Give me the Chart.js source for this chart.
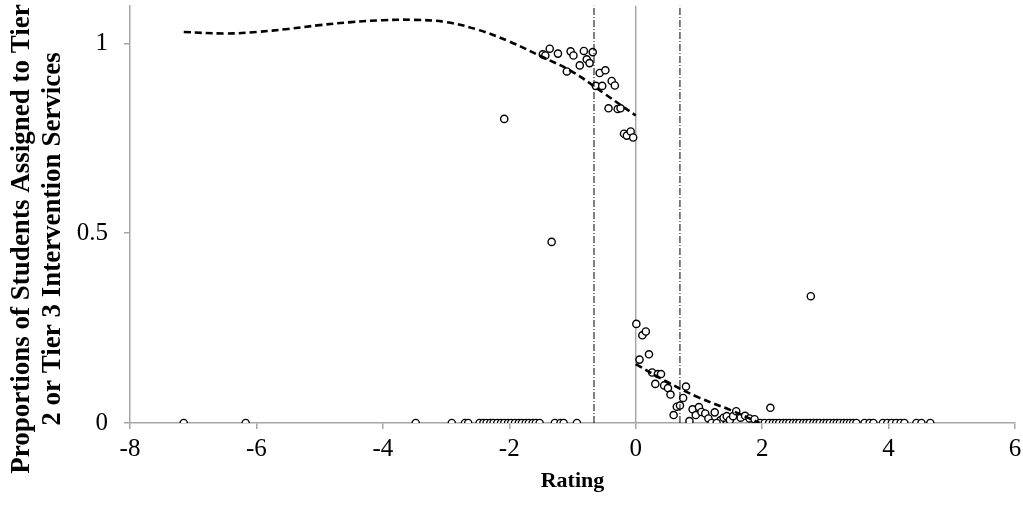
<!DOCTYPE html>
<html>
<head>
<meta charset="utf-8">
<script src="https://cdn.jsdelivr.net/npm/chart.js@4/dist/chart.umd.min.js"></script>
<style>
  html, body { margin: 0; padding: 0; background: #fff; }
  #wrap { width: 1023px; height: 510px; }
</style>
</head>
<body>
<div id="wrap"><canvas id="grafico" width="1023" height="510"></canvas></div>
<script>
// observed proportions (rating, proportion)
const ratingsUpper = [-2.08, -1.47, -1.43, -1.36, -1.33, -1.23, -1.09, -1.03, -0.985, -0.885, -0.82, -0.775, -0.73, -0.68,
    -0.63, -0.57, -0.53, -0.48, -0.43, -0.38, -0.33, -0.285, -0.24, -0.185, -0.14, -0.08, -0.04];
const propsUpper = [0.801, 0.971, 0.968, 0.986, 0.477, 0.973, 0.926, 0.979, 0.968, 0.942, 0.980, 0.958, 0.948, 0.977,
    0.888, 0.922, 0.888, 0.929, 0.829, 0.901, 0.889, 0.827, 0.829, 0.762, 0.757, 0.768, 0.752];

const ratingsLower = [0.01, 0.06, 0.105, 0.16, 0.21, 0.26, 0.31, 0.35, 0.40, 0.45, 0.51, 0.55, 0.60, 0.65, 0.70, 0.75,
    0.795, 0.85, 0.90, 0.95, 1.00, 1.04, 1.10, 1.15, 1.25, 1.34, 1.39, 1.44, 1.49, 1.54, 1.59, 1.66, 1.73, 1.80, 1.88, 2.13, 2.77];
const propsLower = [0.261, 0.167, 0.231, 0.241, 0.181, 0.133, 0.103, 0.129, 0.129, 0.099, 0.092, 0.075, 0.021, 0.043, 0.046, 0.066,
    0.096, 0.005, 0.036, 0.021, 0.042, 0.029, 0.025, 0.012, 0.028, 0.007, 0.014, 0.018, 0.008, 0.018, 0.031, 0.014, 0.019, 0.012, 0.010, 0.040, 0.334];

// ratings where the proportion is 0
const ratingsZero = [-7.15, -6.17, -3.48, -2.91, -2.70, -2.65,
    -2.47, -2.41, -2.36, -2.30, -2.25, -2.19, -2.13, -2.08, -2.02, -1.97, -1.91, -1.85, -1.80, -1.74, -1.69, -1.63, -1.58, -1.52,
    -1.28, -1.19, -1.14, -0.93,
    1.20, 1.28, 1.97, 2.04, 2.11,
    2.17, 2.22, 2.27, 2.33, 2.38, 2.43, 2.49, 2.54, 2.59, 2.65, 2.70, 2.75, 2.81, 2.86, 2.91, 2.97, 3.02, 3.07, 3.13, 3.18,
    3.23, 3.29, 3.34, 3.39, 3.44, 3.49,
    3.62, 3.70, 3.76, 3.91, 3.98, 4.05, 4.12, 4.19, 4.25, 4.44, 4.52, 4.66];

// fitted curves
const fitLeftX = [-7.15, -6.5, -6, -5.5, -5, -4.5, -4, -3.5, -3, -2.5, -2, -1.5, -1, -0.5, 0];
const fitLeftY = [1.030, 1.026, 1.030, 1.038, 1.048, 1.056, 1.061, 1.062, 1.056, 1.036, 1.005, 0.966, 0.925, 0.868, 0.810];
const fitRightX = [0, 0.5, 1, 1.5, 1.96];
const fitRightY = [0.155, 0.108, 0.067, 0.034, 0.0];

const cutoffs = [-0.66, 0.70];
const xTicks = [-8, -6, -4, -2, 0, 2, 4, 6];
const yTicks = [0, 0.5, 1];
const yMax = 1.1;

const tituloY = ["Proportions of Students Assigned to Tier", "2 or Tier 3 Intervention Services"];
const tituloX = "Rating";

const serif = "'Liberation Serif', 'Times New Roman', serif";
const gris = "#a6a6a6";

function pares(xs, ys) {
    return xs.map((x, i) => ({ x: x, y: ys[i] }));
}

const puntos = pares(ratingsUpper, propsUpper)
    .concat(pares(ratingsLower, propsLower))
    .concat(ratingsZero.map(x => ({ x: x, y: 0 })));

const datasets = [];

datasets.push({
    type: "scatter",
    data: puntos,
    pointRadius: 3.6,
    pointBorderWidth: 1.4,
    pointBackgroundColor: "#fff",
    pointBorderColor: "#000",
    order: 3
});

[[fitLeftX, fitLeftY], [fitRightX, fitRightY]].forEach(function (c) {
    datasets.push({
        type: "line",
        data: pares(c[0], c[1]),
        borderColor: "#000",
        borderWidth: 2.6,
        borderDash: [7, 4],
        pointRadius: 0,
        tension: 0.4,
        fill: false,
        order: 1
    });
});

cutoffs.forEach(function (c) {
    datasets.push({
        type: "line",
        data: [{ x: c, y: 0 }, { x: c, y: yMax }],
        borderColor: "#000",
        borderWidth: 1,
        borderDash: [7, 2, 1, 2],
        pointRadius: 0,
        fill: false,
        order: 2
    });
});

datasets.push({
    type: "line",
    data: [{ x: 0, y: 0 }, { x: 0, y: yMax }],
    borderColor: gris,
    borderWidth: 1.5,
    pointRadius: 0,
    fill: false,
    order: 4
});

// y axis title: two rotated lines, large like the original
const tituloPlugin = {
    id: "tituloY",
    afterDraw(chart) {
        const ctx = chart.ctx;
        ctx.save();
        ctx.translate(0, 239);
        ctx.rotate(-Math.PI / 2);
        ctx.font = "bold 27px " + serif;
        ctx.fillStyle = "#000";
        ctx.textAlign = "center";
        ctx.textBaseline = "middle";
        tituloY.forEach(function (t, i) {
            ctx.fillText(t, 0, 22 + i * 31);
        });
        ctx.restore();
    }
};

const ctx = document.getElementById("grafico").getContext("2d");
new Chart(ctx, {
    type: "scatter",
    data: { datasets: datasets },
    plugins: [tituloPlugin],
    options: {
        responsive: false,
        animation: false,
        devicePixelRatio: 1,
        layout: { padding: { top: 5, right: 8, left: 0, bottom: 0 } },
        plugins: {
            legend: { display: false },
            tooltip: { enabled: false }
        },
        scales: {
            x: {
                type: "linear",
                min: -8,
                max: 6,
                afterBuildTicks: function (scale) {
                    scale.ticks = xTicks.map(v => ({ value: v }));
                },
                afterFit: function (scale) {
                    scale.height = 87;
                    scale.paddingLeft = 0;
                    scale.paddingRight = 0;
                },
                border: { color: gris, width: 1.5 },
                grid: { drawOnChartArea: false, color: gris, tickLength: 6, lineWidth: 1.5 },
                ticks: {
                    color: "#000",
                    padding: 5,
                    maxRotation: 0,
                    font: { family: serif, size: 25 },
                    callback: v => String(v)
                },
                title: {
                    display: true,
                    text: tituloX,
                    color: "#000",
                    font: { family: serif, size: 22, weight: "bold" },
                    padding: { top: 0, bottom: 15 }
                }
            },
            y: {
                type: "linear",
                min: 0,
                max: yMax,
                afterBuildTicks: function (scale) {
                    scale.ticks = yTicks.map(v => ({ value: v }));
                },
                afterFit: function (scale) {
                    scale.width = 130;
                    scale.paddingTop = 0;
                    scale.paddingBottom = 0;
                },
                border: { color: gris, width: 1.5 },
                grid: { drawOnChartArea: false, color: gris, tickLength: 6, lineWidth: 1.5 },
                ticks: {
                    color: "#000",
                    padding: 16,
                    font: { family: serif, size: 25 },
                    callback: v => String(v)
                }
            }
        }
    }
});
</script>
</body>
</html>
